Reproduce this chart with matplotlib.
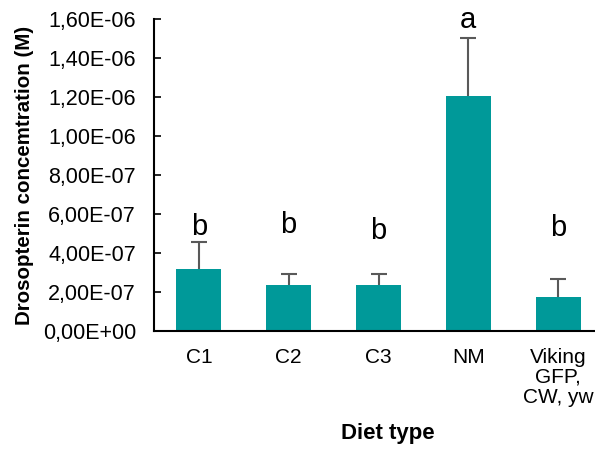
import numpy as np
import matplotlib.pyplot as plt
from matplotlib.ticker import FuncFormatter

plt.rcParams['font.family'] = ['Liberation Sans', 'DejaVu Sans']

# Mean drosopterin concentration per diet (M) and upper error
diets = ['C1', 'C2', 'C3', 'NM', 'Viking\nGFP,\nCW, yw']
means = [3.18e-7, 2.36e-7, 2.36e-7, 1.205e-6, 1.76e-7]
errors = [1.38e-7, 0.56e-7, 0.56e-7, 2.98e-7, 0.89e-7]
letters = ['b', 'b', 'b', 'a', 'b']
letter_y = [5.32e-7, 5.42e-7, 5.15e-7, 1.595e-6, 5.27e-7]

bar_color = '#009999'
err_color = '#595959'

fig = plt.figure(figsize=(5.95, 4.49), dpi=100)
ax = fig.add_axes([154 / 595, 118 / 449, 449 / 595, 312 / 449])

x = np.arange(len(diets))
tops = np.array(means) + np.array(errors)
ax.bar(x, means, width=0.5, color=bar_color, zorder=2)
# upper-only error bars: stem plus a cap at the top
ax.vlines(x, means, tops, color=err_color, linewidth=1.5, zorder=3)
ax.plot(x, tops, linestyle='none', marker='_', markersize=11,
        markeredgewidth=1.5, color=err_color, zorder=3)

for xi, lab, ly in zip(x, letters, letter_y):
    ax.text(xi, ly, lab, ha='center', va='center', fontsize=21, clip_on=False)

ax.set_xlim(-0.5, len(diets) - 0.5)
ax.set_ylim(0, 1.6e-6)
ax.set_yticks(np.arange(0, 1.61e-6, 2e-7))


def sci_comma(v, pos):
    s = f'{v:.2E}'
    return s.replace('.', ',')


ax.yaxis.set_major_formatter(FuncFormatter(sci_comma))
ax.set_xticks(x)
ax.set_xticklabels(diets, linespacing=1.08)

ax.tick_params(axis='y', direction='in', length=5, width=1.2, labelsize=15.5, pad=13)
ax.tick_params(axis='x', length=0, labelsize=15, pad=12)

for side in ['top', 'right']:
    ax.spines[side].set_visible(False)
for side in ['left', 'bottom']:
    ax.spines[side].set_linewidth(1.5)

ax.set_ylabel('Drosopterin concemtration (M)', fontsize=14.75, fontweight='bold', labelpad=6)
fig.text(388 / 595, 1 - 433 / 449, 'Diet type', ha='center', va='center',
         fontsize=16, fontweight='bold')

fig.savefig('out.png', dpi=100)
